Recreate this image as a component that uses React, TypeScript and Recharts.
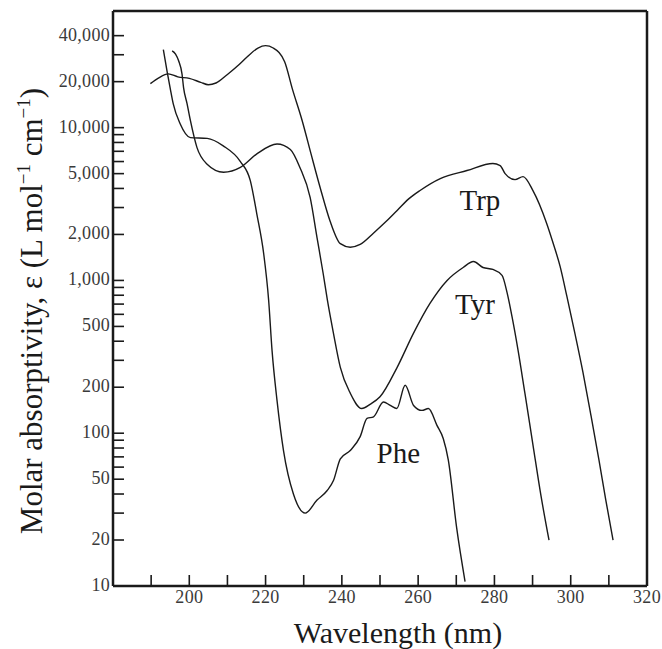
import React from 'react';
import { LineChart, Line, XAxis, YAxis, ReferenceDot } from 'recharts';

// UV absorption spectra of the aromatic amino acids (log scale)
const trpNm = [189.8, 192, 194.5, 197, 200, 203, 205, 207, 210, 213, 215, 218, 220, 222, 225, 227, 229.6, 231.9, 234.3, 236.9, 239.6, 242.2, 244.8, 248.2, 251.3, 254.5, 257.6, 260.5, 265.8, 272.8, 279.6, 281.5, 282.8, 285.4, 287.5, 290.1, 293.7, 295.4, 297.2, 299, 301.1, 303.2, 305.3, 307.4, 309.2, 311.1];
const trpEps = [19400, 21200, 22500, 21500, 21000, 19800, 19100, 19600, 22300, 25800, 28800, 33200, 34400, 33200, 27000, 18000, 11100, 6760, 4060, 2450, 1740, 1650, 1720, 2030, 2390, 2870, 3430, 3880, 4640, 5240, 5820, 5650, 5000, 4570, 4780, 3870, 2360, 1750, 1240, 786, 450, 251, 131, 67, 36.5, 20];

const tyrNm = [195.5, 196.4, 197.2, 198.1, 198.5, 199.4, 200.3, 202, 204.6, 209, 213.4, 217.8, 223, 226.5, 229, 231.7, 233.5, 235.1, 236.2, 237.8, 239.6, 242.2, 245.2, 247.5, 250, 254.5, 258.7, 263.1, 267.6, 271.8, 274.5, 277, 279.6, 282, 283.3, 284.6, 286.2, 288, 290.1, 292.2, 294.3];
const tyrEps = [31800, 30300, 27400, 22400, 18300, 14400, 11100, 7430, 5790, 5110, 5490, 6760, 7820, 7200, 5490, 3480, 1900, 1110, 745, 451, 270, 183, 145, 155, 173, 270, 447, 707, 1000, 1215, 1330, 1215, 1180, 1080, 836, 582, 349, 182, 84, 39, 20];

const pheNm = [193.2, 194.2, 195, 195.8, 197.6, 200.3, 204.7, 208.9, 213.4, 216, 217.7, 219.5, 220.8, 221.7, 223, 224.7, 227.3, 230.4, 233.5, 236.1, 237.8, 239.6, 242.2, 244.8, 246.6, 248.3, 250.9, 252.7, 254.4, 256.6, 258.8, 261, 262.7, 264.9, 266.6, 267.9, 270.1, 272.3];
const pheEps = [32400, 23200, 18100, 14300, 10600, 8600, 8500, 7600, 6000, 4500, 2730, 1500, 745, 347, 164, 77, 40, 30, 36.5, 42, 49, 68, 77, 95, 125, 128, 160, 152, 145, 206, 152, 141, 145, 113, 92, 67, 24, 10.7];

const xTicks = [190, 200, 210, 220, 230, 240, 250, 260, 270, 280, 290, 300, 310, 320];
const xLabeled = [200, 220, 240, 260, 280, 300, 320];
const yTicks = [10, 20, 30, 40, 50, 60, 70, 80, 90, 100, 200, 300, 400, 500, 600, 700, 800, 900, 1000, 2000, 3000, 4000, 5000, 6000, 7000, 8000, 9000, 10000, 20000, 30000, 40000];
const yLabeled = [10, 20, 50, 100, 200, 500, 1000, 2000, 5000, 10000, 20000, 40000];

const toPoints = (nm: number[], eps: number[]) => nm.map((x, i) => ({ x, y: eps[i] }));

const FONT = '"Liberation Serif", "Times New Roman", serif';
const INK = '#1a1a1a';
const TICK_INK = '#3a3a3a';

const XTick = (props: any) => {
  const { x, y, payload } = props;
  const v = payload.value;
  return (
    <g>
      <line x1={x} y1={y} x2={x} y2={y - 11} stroke={INK} strokeWidth={1.6} />
      {xLabeled.includes(v) && (
        <text x={x} y={y + 17} textAnchor="middle" fontSize={18} letterSpacing={0.3} fontFamily={FONT} fill={TICK_INK}>{v}</text>
      )}
    </g>
  );
};

const YTick = (props: any) => {
  const { x, y, payload } = props;
  const v = payload.value;
  return (
    <g>
      <line x1={x} y1={y} x2={x + 11} y2={y} stroke={INK} strokeWidth={1.6} />
      {yLabeled.includes(v) && (
        <text x={x - 3} y={y + 5} textAnchor="end" fontSize={18} letterSpacing={0.3} fontFamily={FONT} fill={TICK_INK}>
          {v.toLocaleString('en-US')}
        </text>
      )}
    </g>
  );
};

const curveLabel = (text: string) => ({ value: text, position: 'center' as const, fontSize: 29, fontFamily: FONT, fill: INK });

export default function App() {
  const Y_DOMAIN: [number, number] = [10, 58000];
  const axisStroke = { stroke: INK, strokeWidth: 2.5 };
  return (
    <div style={{ position: 'absolute', left: 0, top: 0, width: 662, height: 649, background: '#fff' }}>
      <LineChart width={662} height={649} margin={{ top: 10, right: 14, bottom: 33, left: 53 }}>
        <XAxis dataKey="x" type="number" domain={[180, 320]} allowDataOverflow ticks={xTicks} interval={0}
               height={30} tickSize={0} tickMargin={0} tickLine={false} tick={<XTick />} axisLine={axisStroke} />
        <XAxis xAxisId="top" orientation="top" type="number" domain={[180, 320]} allowDataOverflow height={1}
               tick={false} tickLine={false} axisLine={axisStroke} />
        <YAxis scale="log" type="number" domain={Y_DOMAIN} allowDataOverflow ticks={yTicks} interval={0}
               width={60} tickSize={0} tickMargin={0} tickLine={false} tick={<YTick />} axisLine={axisStroke} />
        <YAxis yAxisId="right" orientation="right" scale="log" type="number" domain={Y_DOMAIN} allowDataOverflow
               width={1} tick={false} tickLine={false} axisLine={axisStroke} />
        <Line data={toPoints(trpNm, trpEps)} dataKey="y" type="monotone" stroke={INK} strokeWidth={1.4}
              dot={false} isAnimationActive={false} />
        <Line data={toPoints(tyrNm, tyrEps)} dataKey="y" type="monotone" stroke={INK} strokeWidth={1.4}
              dot={false} isAnimationActive={false} />
        <Line data={toPoints(pheNm, pheEps)} dataKey="y" type="monotone" stroke={INK} strokeWidth={1.4}
              dot={false} isAnimationActive={false} />
        <ReferenceDot x={276.2} y={3380} r={0} fill="none" stroke="none" label={curveLabel('Trp')} />
        <ReferenceDot x={274.9} y={708} r={0} fill="none" stroke="none" label={curveLabel('Tyr')} />
        <ReferenceDot x={254.8} y={74} r={0} fill="none" stroke="none" label={curveLabel('Phe')} />
      </LineChart>
      <svg width={662} height={649} style={{ position: 'absolute', left: 0, top: 0, pointerEvents: 'none' }}>
        <text x={398} y={643} textAnchor="middle" fontSize={30} fontFamily={FONT} fill={INK}>Wavelength (nm)</text>
        <text transform="translate(42,311) rotate(-90)" textAnchor="middle" fontSize={31} fontFamily={FONT} fill={INK}>
          Molar absorptivity, ε (L mol<tspan dy={-12} fontSize={19}>−1</tspan><tspan dy={12}> cm</tspan>
          <tspan dy={-12} fontSize={19}>−1</tspan><tspan dy={12}>)</tspan>
        </text>
      </svg>
    </div>
  );
}
